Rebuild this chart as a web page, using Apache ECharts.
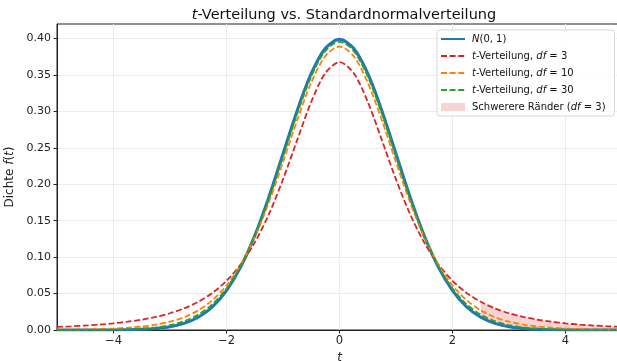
<!DOCTYPE html>
<html><head><meta charset="utf-8">
<script src="https://cdn.jsdelivr.net/npm/echarts@6/dist/echarts.min.js"></script>
<style>html,body{margin:0;padding:0;background:#fff}#c{width:617px;height:361px}</style>
</head><body><div id="c"></div>
<script>
const tValues = [-5,-4.75,-4.5,-4.25,-4,-3.75,-3.5,-3.25,-3,-2.75,-2.5,-2.25,-2,-1.75,-1.5,-1.25,-1,-0.75,-0.5,-0.25,0,0.25,0.5,0.75,1,1.25,1.5,1.75,2,2.25,2.5,2.75,3,3.25,3.5,3.75,4,4.25,4.5,4.75,5];
const normalPdf = [0.0000015,0.000005,0.000016,0.0000477,0.000134,0.000353,0.000873,0.00203,0.00443,0.0091,0.0175,0.0317,0.0540,0.0863,0.1295,0.1826,0.2420,0.3011,0.3521,0.3867,0.3989,0.3867,0.3521,0.3011,0.2420,0.1826,0.1295,0.0863,0.0540,0.0317,0.0175,0.0091,0.00443,0.00203,0.000873,0.000353,0.000134,0.0000477,0.000016,0.000005,0.0000015];
const t3Pdf = [0.00422,0.00506,0.00612,0.00746,0.00916,0.0114,0.0142,0.0180,0.0230,0.0297,0.0387,0.0509,0.0675,0.0900,0.1200,0.1589,0.2067,0.2606,0.3132,0.3527,0.3676,0.3527,0.3132,0.2606,0.2067,0.1589,0.1200,0.0900,0.0675,0.0509,0.0387,0.0297,0.0230,0.0180,0.0142,0.0114,0.00916,0.00746,0.00612,0.00506,0.00422];
const t10Pdf = [0.000396,0.000589,0.000883,0.00133,0.00203,0.00311,0.00478,0.00738,0.0114,0.01757,0.0269,0.0409,0.0611,0.0895,0.1274,0.1751,0.2304,0.2880,0.3397,0.3760,0.3891,0.3760,0.3397,0.2880,0.2304,0.1751,0.1274,0.0895,0.0611,0.0409,0.0269,0.01757,0.0114,0.00738,0.00478,0.00311,0.00203,0.00133,0.000883,0.000589,0.000396];
const t30Pdf = [0.0000329,0.0000664,0.000133,0.000266,0.000525,0.00102,0.00196,0.00369,0.00678,0.01213,0.0211,0.0353,0.0569,0.0877,0.1290,0.1801,0.2380,0.2966,0.3479,0.3831,0.3956,0.3831,0.3479,0.2966,0.2380,0.1801,0.1290,0.0877,0.0569,0.0353,0.0211,0.01213,0.00678,0.00369,0.00196,0.00102,0.000525,0.000266,0.000133,0.0000664,0.0000329];
const shadeStart = 2.5;
const xTicks = [-4,-2,0,2,4];
const yTicks = [0,0.05,0.10,0.15,0.20,0.25,0.30,0.35,0.40];

const pairs = arr => tValues.map((t,i)=>[t,arr[i]]);
const shadeIdx = tValues.map((t,i)=>i).filter(i=>tValues[i]>=shadeStart);
const shadeData = shadeIdx.map(i=>[tValues[i], normalPdf[i], t3Pdf[i]]);

const FONT = 'DejaVu Sans';
const FILL = 'rgba(214,39,40,0.2)';
const names = { n: 'N(0,1)', t3: 't3', t10: 't10', t30: 't30', fill: 'fill' };
const legendText = {
  'N(0,1)': '{i|N}(0, 1)',
  't3': '{i|t}-Verteilung, {i|df} = 3',
  't10': '{i|t}-Verteilung, {i|df} = 10',
  't30': '{i|t}-Verteilung, {i|df} = 30',
  'fill': 'Schwerere Ränder ({i|df} = 3)'
};
const chart = echarts.init(document.getElementById('c'), null, {renderer:'canvas'});
const dash = [6, 2.6];
chart.setOption({
  animation: false,
  backgroundColor: '#fff',
  title: {
    text: '{i|t}-Verteilung vs. Standardnormalverteilung',
    left: 339, top: 3, textAlign: 'center',
    textStyle: { fontFamily: FONT, fontSize: 14.5, fontWeight: 'normal', color: '#111',
      rich: { i: { fontFamily: FONT, fontSize: 14.5, fontStyle: 'italic', color: '#111' } } }
  },
  grid: { left: 57, top: 24, width: 565, height: 306, show: true, borderColor: '#222', borderWidth: 1,
    containLabel: false, outerBoundsMode: 'none' },
  legend: {
    left: 437, top: 30, orient: 'vertical',
    data: [
      {name: names.n}, {name: names.t3}, {name: names.t10}, {name: names.t30},
      {name: names.fill, icon: 'rect', itemStyle: {color: FILL, opacity: 1}}
    ],
    itemWidth: 24, itemHeight: 8, itemGap: 7,
    padding: [4, 9, 4, 3],
    itemStyle: { opacity: 0 },
    borderColor: '#d8d8d8', borderWidth: 1, borderRadius: 3,
    backgroundColor: 'rgba(255,255,255,0.85)',
    formatter: n => legendText[n],
    textStyle: { fontFamily: FONT, fontSize: 10, color: '#111', padding: [0,0,0,2],
      rich: { i: { fontFamily: FONT, fontSize: 10, fontStyle: 'italic', color: '#111' } } }
  },
  xAxis: {
    type: 'value', min: -5, max: 5,
    axisLine: { show: true, onZero: false, lineStyle: { color: '#222', width: 1 } },
    axisTick: { show: true, length: 3.5, lineStyle: { color: '#222' }, customValues: xTicks },
    axisLabel: { fontFamily: FONT, fontSize: 11.5, color: '#222', margin: 5, customValues: xTicks,
      formatter: v => (v < 0 ? '\u2212' + Math.abs(v) : String(v)) },
    splitLine: { show: true, lineStyle: { color: '#ebebeb', width: 1 } },
    name: 't', nameLocation: 'middle', nameGap: 20,
    nameTextStyle: { fontFamily: FONT, fontSize: 12, fontStyle: 'italic', color: '#222' }
  },
  yAxis: {
    type: 'value', min: 0, max: 0.42,
    axisLine: { show: true, onZero: false, lineStyle: { color: '#222', width: 1 } },
    axisTick: { show: true, length: 3.5, lineStyle: { color: '#222' }, customValues: yTicks },
    axisLabel: { fontFamily: FONT, fontSize: 11, color: '#222', margin: 6, customValues: yTicks,
      formatter: v => v.toFixed(2) },
    splitLine: { show: true, lineStyle: { color: '#ebebeb', width: 1 } },
    name: 'Dichte {i|f}({i|t})', nameLocation: 'middle', nameGap: 30,
    nameTextStyle: { fontFamily: FONT, fontSize: 12, color: '#222',
      rich: { i: { fontFamily: FONT, fontSize: 12, fontStyle: 'italic', color: '#222' } } }
  },
  series: [
    { name: names.fill, type: 'custom', data: shadeData, z: 1, silent: true, clip: true,
      itemStyle: { color: FILL },
      renderItem: (params, api) => {
        if (params.dataIndex !== 0) return null;
        const upper = shadeData.map(d => api.coord([d[0], d[2]]));
        const lower = shadeData.map(d => api.coord([d[0], d[1]])).reverse();
        return { type: 'polygon', shape: { points: upper.concat(lower) }, style: { fill: FILL } };
      } },
    { name: names.n, type: 'line', data: pairs(normalPdf), smooth: 0.3, symbol: 'none',
      itemStyle: {color: '#1f77b4'}, lineStyle: { color: '#1f77b4', width: 3 }, z: 2 },
    { name: names.t3, type: 'line', data: pairs(t3Pdf), smooth: 0.3, symbol: 'none',
      itemStyle: {color: '#d62728'}, lineStyle: { color: '#d62728', width: 1.8, type: dash }, z: 3 },
    { name: names.t10, type: 'line', data: pairs(t10Pdf), smooth: 0.3, symbol: 'none',
      itemStyle: {color: '#ff7f0e'}, lineStyle: { color: '#ff7f0e', width: 1.8, type: dash }, z: 3 },
    { name: names.t30, type: 'line', data: pairs(t30Pdf), smooth: 0.3, symbol: 'none',
      itemStyle: {color: '#2ca02c'}, lineStyle: { color: '#2ca02c', width: 1.8, type: dash }, z: 3 }
  ]
});
</script></body></html>
